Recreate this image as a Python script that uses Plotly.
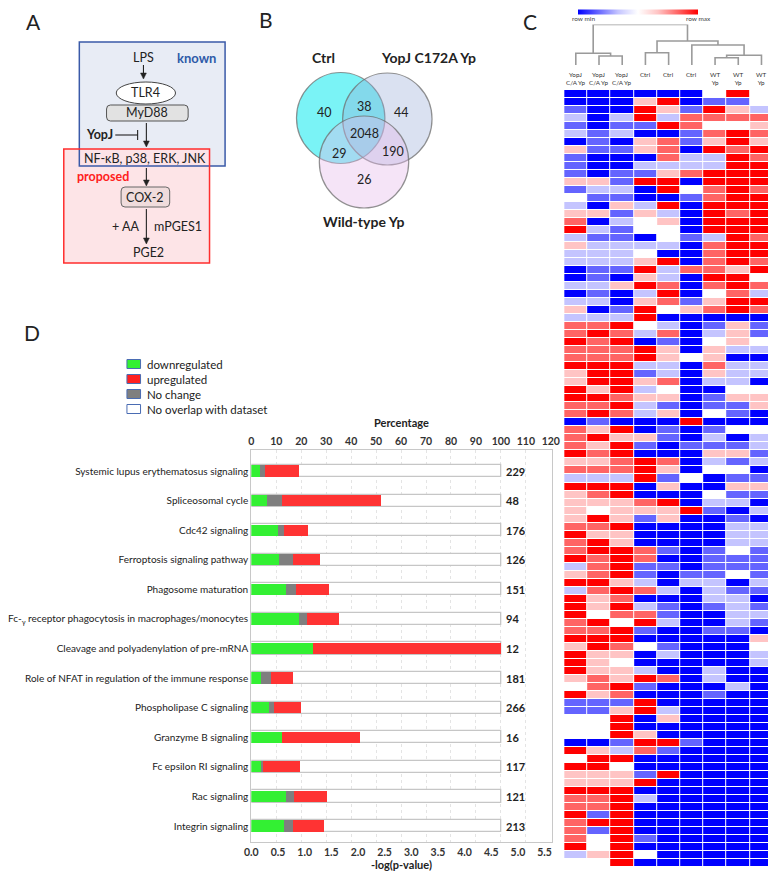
import plotly.graph_objects as go

W, H = 776, 871
def px(x): return x / W
def py(y): return 1 - y / H

FONT = "Lato, 'Open Sans', sans-serif"

# ---------------- Panel D data ----------------
pathways = ["Systemic lupus erythematosus signaling", "Spliceosomal cycle", "Cdc42 signaling",
            "Ferroptosis signaling pathway", "Phagosome maturation",
            "Fc-<sub>γ</sub> receptor phagocytosis in macrophages/monocytes",
            "Cleavage and polyadenylation of pre-mRNA",
            "Role of NFAT in regulation of the immune response", "Phospholipase C signaling",
            "Granzyme B signaling", "Fc epsilon RI signaling", "Rac signaling", "Integrin signaling"]
pct_down = [3.5, 6.3, 10.8, 11.1, 13.9, 19.1, 25.0, 3.9, 7.1, 12.5, 4.0, 14.0, 13.1]
pct_nochange = [2.2, 6.2, 2.3, 5.6, 4.0, 3.2, 0.0, 4.1, 2.3, 0.0, 1.0, 3.3, 3.8]
pct_up = [13.5, 39.6, 9.7, 11.1, 13.2, 12.8, 75.0, 8.8, 10.5, 31.2, 14.5, 13.2, 12.2]
pathway_sizes = [229, 48, 176, 126, 151, 94, 12, 181, 266, 16, 117, 121, 213]
pct_ticks = list(range(0, 130, 10))
logp_ticks = [0.0, 0.5, 1.0, 1.5, 2.0, 2.5, 3.0, 3.5, 4.0, 4.5, 5.0, 5.5]
legend_names = ["downregulated", "upregulated", "No change", "No overlap with dataset"]

# ---------------- Panel B data ----------------
venn_sets = ["Ctrl", "YopJ C172A Yp", "Wild-type Yp"]
venn_counts = ["40", "38", "44", "2048", "29", "190", "26"]

# ---------------- Panel C data ----------------
col_labels = ["YopJ<br>C/A Yp", "YopJ<br>C/A Yp", "YopJ<br>C/A Yp", "Ctrl", "Ctrl", "Ctrl",
              "WT<br>Yp", "WT<br>Yp", "WT<br>Yp"]
heat = [
    [-3, -3, -3, -3, -3, -3, 0, 3, 0],
    [-3, -3, -3, 1, 3, -3, -2, -2, 0],
    [-2, -3, -3, 3, 1, -2, 3, 1, -1],
    [-1, -3, -1, 3, -1, 2, 2, 2, 2],
    [-2, -3, -2, -2, 3, 2, 0, 0, 1],
    [-1, -2, -1, -3, -3, -2, 2, 3, 2],
    [-3, -2, -3, 1, 2, -2, 1, 3, 1],
    [1, -2, -2, 1, 2, -3, 3, 2, 3],
    [-2, -3, -3, -3, 2, -1, -1, 3, 2],
    [-2, -3, -3, -1, -1, -1, -1, 3, 3],
    [-2, -3, -2, -2, 1, 2, 3, 3, 3],
    [1, 1, -2, 3, 3, -3, 3, 3, 3],
    [-2, -1, -1, -3, 3, 0, 2, 3, 2],
    [0, -2, -2, -3, -3, -2, 2, 3, 3],
    [-1, -3, 1, -1, 3, -3, 3, 3, 3],
    [1, 1, -2, 1, -1, -3, 3, 2, 3],
    [2, -3, -1, 0, 1, -3, 3, 3, 3],
    [3, -1, -2, 0, 0, -3, 3, 3, 3],
    [-1, -2, -2, -3, 0, -2, -1, 3, 2],
    [1, -1, -1, -1, -1, -3, 2, 3, 3],
    [-1, -1, -1, 0, -3, -3, 2, 3, 3],
    [-1, -1, -1, 1, 3, -3, 2, 3, 2],
    [-3, -2, -2, 3, -1, 2, 2, 1, 3],
    [-3, -2, -3, 1, -1, -3, 3, 3, 0],
    [-1, -1, 1, 3, 2, -3, 2, 3, 2],
    [-3, -2, -3, -1, 3, -3, 0, 2, -1],
    [-1, -1, -3, 1, 2, -2, 1, 3, 3],
    [1, -3, -2, 3, 0, 1, 2, 3, 2],
    [-1, -1, -1, 3, -3, -3, -3, -3, -3],
    [2, 2, 3, 0, -1, -3, -2, 1, -2],
    [2, 3, 2, -1, 2, -3, -1, 1, -2],
    [3, 2, 3, -3, -2, -3, 0, 1, 0],
    [2, 2, 2, 3, 1, -3, 1, -1, -1],
    [2, 2, 2, 3, 1, 0, 1, -3, -3],
    [3, 3, 3, -1, -1, -3, 2, -1, -1],
    [1, 3, 3, -2, -1, -3, 1, -1, -1],
    [1, 3, 3, 1, 2, -3, -1, -1, -3],
    [3, 1, 3, -1, 0, -3, -3, 0, 0],
    [3, 3, 2, 1, 1, -3, -2, 1, 1],
    [2, 2, 3, -1, -2, -3, -2, -2, 1],
    [2, 3, 2, -1, 1, -3, 0, -2, -3],
    [-3, -2, -3, -3, -3, 3, -3, -3, -3],
    [2, 1, 3, -3, -2, -3, -2, 0, 0],
    [2, 3, 1, 1, -2, -3, -1, -3, -1],
    [2, 1, 3, -2, -3, -2, -2, -2, -1],
    [3, 2, 3, -3, -3, -3, 1, 1, -2],
    [1, 1, 2, 3, 2, -3, -1, -2, -1],
    [2, 2, 2, 3, 1, -3, 0, 0, -3],
    [-1, -1, -1, 3, -2, 0, -3, -2, -2],
    [3, 3, 3, -3, 1, -3, -3, 1, 1],
    [1, 2, 3, -3, -3, -3, 0, -2, -2],
    [1, 1, 1, 2, 3, -3, -1, -1, -3],
    [1, 0, 1, 1, 1, 3, -2, -3, -1],
    [1, 3, 1, -2, 1, -3, -3, -2, -3],
    [2, 2, 3, -3, -3, -3, -3, -1, -1],
    [3, 1, 1, -3, -3, -3, -3, -1, -1],
    [2, 3, 1, -3, -3, -3, -3, -1, -1],
    [2, 3, 3, 2, -2, -3, -2, 0, -2],
    [3, 2, 3, 2, -3, -3, -2, -2, -2],
    [-1, 2, 3, -2, -2, -3, -2, -2, -2],
    [1, 2, 3, -2, -3, -2, -2, 0, -2],
    [3, 3, 1, -1, -3, -1, -1, -3, -1],
    [-1, 2, 3, 2, -1, -3, -1, -2, -2],
    [3, 1, 2, -3, -3, -3, -1, -1, -3],
    [3, 1, 3, -1, -2, -3, -2, -1, -2],
    [3, 0, 2, 2, -2, -3, -3, -1, -1],
    [2, 3, 0, 3, -1, -3, -3, -1, -2],
    [2, 2, 3, -2, -3, -3, -2, -2, -3],
    [3, 3, 3, -3, -3, -3, -3, -3, 1],
    [1, 3, 2, 0, -2, -3, -3, -3, 0],
    [3, 1, 1, -3, -1, -3, -3, -3, -1],
    [3, 1, 0, -3, -3, -3, -3, -3, -1],
    [3, 1, 1, -1, -3, -3, -1, -3, -3],
    [1, 2, 1, 3, 2, -3, -1, -3, -3],
    [0, 2, 3, -2, -3, -3, -3, -1, -3],
    [3, 1, 2, -3, -3, -3, -2, -3, -3],
    [-2, -2, -2, 3, -3, -3, -3, -3, -3],
    [-2, -2, 1, 3, -1, -3, -3, -3, -3],
    [0, 0, 3, -3, 1, -3, -3, -3, -3],
    [0, 0, 3, -3, -3, -3, -3, -3, -3],
    [0, 0, 3, 1, -3, -3, -3, -3, -3],
    [-3, -3, -2, 3, 3, -2, -3, -3, -3],
    [3, 1, -1, 2, -2, -3, -3, -3, -3],
    [0, 3, 3, -3, -3, -3, -3, -3, -3],
    [3, 3, 0, -3, -3, -3, -3, -3, -3],
    [1, 1, 1, -2, 3, -3, -3, -3, -3],
    [1, 1, 1, 3, -3, -3, -3, -3, -3],
    [3, 3, 3, -3, -3, -3, -3, -3, -3],
    [2, 2, 3, -1, -3, -3, -3, -3, -3],
    [2, 2, 3, -3, -3, -3, -3, -3, -3],
    [3, -2, 3, -3, -3, -3, -3, -3, -3],
    [2, 3, 3, -3, -3, -3, -3, -3, -3],
    [2, -2, 3, -3, -3, -3, -3, -3, -3],
    [2, 0, 3, -2, -3, -3, -3, -3, -3],
    [3, 0, 3, -3, -3, -3, -3, -3, -3],
    [-1, 1, 3, 0, -3, -3, -3, -3, -3],
    [0, 0, 3, -3, -3, -3, -3, -3, -3],
]
# dendrogram merges: (child_a, child_b, height); leaves 0..8, merge i -> node 9+i
dendro_merges = [(1, 2, 9.0), (0, 9, 11.7), (3, 4, 12.3), (6, 7, 7.3), (12, 8, 9.7),
                 (5, 13, 20.0), (11, 14, 24.0), (10, 15, 40.5)]

fig = go.Figure()

# ---------------- Panel D bars ----------------
n = len(pathways)
totals = [100] * n
base_nc = [d for d in pct_down]
base_up = [d + c for d, c in zip(pct_down, pct_nochange)]
BW = 0.41
fig.add_trace(go.Bar(y=pathways, x=totals, orientation='h', width=BW,
                     marker=dict(color='white', line=dict(color='#c6c6c6', width=1.3)),
                     xaxis='x', yaxis='y', hoverinfo='skip'))
fig.add_trace(go.Bar(y=pathways, x=pct_down, base=[0] * n, orientation='h', width=BW - 0.03,
                     marker=dict(color='#33f033', line=dict(width=0)), xaxis='x', yaxis='y'))
fig.add_trace(go.Bar(y=pathways, x=pct_nochange, base=base_nc, orientation='h', width=BW - 0.03,
                     marker=dict(color='#7f7f7f', line=dict(width=0)), xaxis='x', yaxis='y'))
fig.add_trace(go.Bar(y=pathways, x=pct_up, base=base_up, orientation='h', width=BW - 0.03,
                     marker=dict(color='#ff3333', line=dict(width=0)), xaxis='x', yaxis='y'))
fig.add_trace(go.Scatter(x=[0], y=[pathways[0]], xaxis='x2', yaxis='y', mode='markers',
                         marker=dict(opacity=0), hoverinfo='skip'))

# ---------------- Panel C heatmap ----------------
nrows = len(heat)
cs = [[0, '#0000ff'], [1 / 6, '#6464ff'], [2 / 6, '#c4c4ff'], [0.5, '#ffffff'],
      [4 / 6, '#ffc4c4'], [5 / 6, '#ff6464'], [1, '#ff0000']]
fig.add_trace(go.Heatmap(z=heat, x=list(range(9)), y=list(range(nrows)), colorscale=cs,
                         zmin=-3, zmax=3, xgap=1, ygap=1, xaxis='x3', yaxis='y3',
                         colorbar=dict(orientation='h', x=px(634), xanchor='center', y=py(4),
                                       yanchor='middle', len=120, lenmode='pixels', thickness=5,
                                       thicknessmode='pixels', outlinewidth=0, showticklabels=False,
                                       ticks='', xpad=0, ypad=0)))

# dendrogram
node_x = {i: float(i) for i in range(9)}
node_h = {i: 0.0 for i in range(9)}
dx, dy = [], []
for k, (a, b, h) in enumerate(dendro_merges):
    xa, xb = node_x[a], node_x[b]
    dx += [xa, xa, xb, xb, None]
    dy += [node_h[a], h, h, node_h[b], None]
    node_x[9 + k] = (xa + xb) / 2
    node_h[9 + k] = h
fig.add_trace(go.Scatter(x=dx, y=dy, mode='lines', line=dict(color='#9a9a9a', width=1.6),
                         xaxis='x4', yaxis='y4', hoverinfo='skip'))

annotations = []
shapes = []

def txt(x, y, s, size=12.5, color='#222', bold=False, xanchor='center', yanchor='middle'):
    annotations.append(dict(x=px(x), y=py(y), xref='paper', yref='paper', text=f"<b>{s}</b>" if bold else s,
                            showarrow=False, xanchor=xanchor, yanchor=yanchor,
                            font=dict(family=FONT, size=size, color=color)))

# panel letters
txt(2, 13, "A", size=21, xanchor='left')
txt(242, 12, "B", size=21, xanchor='left')
txt(514, 13, "C", size=21, xanchor='left')
txt(0, 325, "D", size=21, xanchor='left')

# ---------------- Panel A diagram ----------------
def rect(x0, y0, x1, y1, fill, line, lw=1.5):
    shapes.append(dict(type='rect', xref='paper', yref='paper', x0=px(x0), x1=px(x1),
                       y0=py(y1), y1=py(y0), fillcolor=fill, line=dict(color=line, width=lw),
                       layer='below'))

def rrect(x0, y0, x1, y1, r, fill, line, lw=1):
    X0, X1, Y0, Y1 = px(x0), px(x1), py(y0), py(y1)
    rx, ry = r / W, r / H
    path = (f"M {X0+rx},{Y0} L {X1-rx},{Y0} Q {X1},{Y0} {X1},{Y0-ry} L {X1},{Y1+ry} "
            f"Q {X1},{Y1} {X1-rx},{Y1} L {X0+rx},{Y1} Q {X0},{Y1} {X0},{Y1+ry} "
            f"L {X0},{Y0-ry} Q {X0},{Y0} {X0+rx},{Y0} Z")
    shapes.append(dict(type='path', xref='paper', yref='paper', path=path, fillcolor=fill,
                       line=dict(color=line, width=lw), layer='below'))

rect(59, 34, 209, 158, '#e8ecf5', 'rgba(0,0,0,0)', 0)
rect(43, 141, 193, 255, 'rgba(253,226,229,0.92)', 'rgba(0,0,0,0)', 0)
rect(59, 34, 209, 158, 'rgba(0,0,0,0)', '#3a5aa8', 1.5)
rect(43, 141, 193, 255, 'rgba(0,0,0,0)', '#ff2e2e', 1.5)
shapes.append(dict(type='circle', xref='paper', yref='paper', x0=px(97), x1=px(158), y0=py(96), y1=py(74),
                   fillcolor='white', line=dict(color='#444', width=1), layer='below'))
rrect(87, 97, 171, 113, 4, '#e2e2e2', '#555')
rrect(102, 179, 152, 199, 4, '#f0dcdc', '#666')

txt(125, 50, "LPS")
txt(180, 50, "known", color='#2e5aa8', bold=True, size=13)
txt(127, 85, "TLR4")
txt(129, 105, "MyD88")
txt(80, 127, "YopJ", bold=True, size=12.5)
txt(127, 151, "NF-κB, p38, ERK, JNK")
txt(83, 168, "proposed", color='#ff2020', bold=True, size=12.5)
txt(127, 189, "COX-2")
txt(122, 218, "+ AA", xanchor='right')
txt(134, 218, "mPGES1", xanchor='left')
txt(130, 245, "PGE2")

def arrow(x, y0, y1):
    shapes.append(dict(type='line', xref='paper', yref='paper', x0=px(x), x1=px(x), y0=py(y0), y1=py(y1 - 4),
                       line=dict(color='#222', width=1.1)))
    path = f"M {px(x - 3)},{py(y1 - 6)} L {px(x + 3)},{py(y1 - 6)} L {px(x)},{py(y1)} Z"
    shapes.append(dict(type='path', xref='paper', yref='paper', path=path, fillcolor='#222',
                       line=dict(color='#222', width=0.5)))

arrow(125, 57, 71)
arrow(128, 115, 139)
arrow(128, 160, 178)
arrow(128, 201, 236)
shapes.append(dict(type='line', xref='paper', yref='paper', x0=px(96), x1=px(119), y0=py(127), y1=py(127),
                   line=dict(color='#222', width=1.1)))
shapes.append(dict(type='line', xref='paper', yref='paper', x0=px(119), x1=px(119), y0=py(122), y1=py(132),
                   line=dict(color='#222', width=1.1)))

# ---------------- Panel B Venn ----------------
def circle(cx, cy, r, fill):
    shapes.append(dict(type='circle', xref='paper', yref='paper', x0=px(cx - r), x1=px(cx + r),
                       y0=py(cy + r), y1=py(cy - r), fillcolor=fill,
                       line=dict(color='rgba(110,110,110,0.75)', width=1.2)))

circle(328, 110, 45.5, 'rgba(40,235,240,0.62)')
circle(376, 111, 46, 'rgba(150,170,215,0.35)')
circle(352, 154, 46, 'rgba(230,185,235,0.38)')
venn_pos = [(311, 104), (352, 98), (391, 104), (352, 126), (327, 145), (382, 143), (352, 172)]
for s, (x, y) in zip(venn_counts, venn_pos):
    txt(x, y, s, size=12.5)
txt(310, 50, venn_sets[0], bold=True, size=14)
txt(418, 50, venn_sets[1], bold=True, size=14)
txt(352, 213, venn_sets[2], bold=True, size=14)

# ---------------- Panel C labels ----------------
for i, lab in enumerate(col_labels):
    annotations.append(dict(x=i, xref='x3', y=py(70.5 if '<br>' in lab else 67), yref='paper', text=lab,
                            showarrow=False, font=dict(family=FONT, size=6.3, color='#333'),
                            xanchor='center', yanchor='middle'))
txt(578, 10, "row min", size=6.5, color='#444')
txt(696, 10, "row max", size=6.5, color='#444')

# ---------------- Panel D legend & labels ----------------
leg_fill = ['#33f033', '#ff2020', '#7f7f7f', '#ffffff']
for i, (name, fc) in enumerate(zip(legend_names, leg_fill)):
    yc = 356 + 15 * i
    shapes.append(dict(type='rect', xref='paper', yref='paper', x0=px(108), x1=px(122),
                       y0=py(yc + 4.5), y1=py(yc - 4.5), fillcolor=fc,
                       line=dict(color='#4a6cb3', width=1)))
    txt(127, yc, name, size=11.5, xanchor='left')

for name, size in zip(pathways, pathway_sizes):
    annotations.append(dict(x=101.3, xref='x', y=name, yref='y', text=f"<b>{size}</b>",
                            showarrow=False, xanchor='left', yanchor='middle',
                            font=dict(family=FONT, size=11, color='#222')))

fig.update_layout(
    width=W, height=H, margin=dict(l=0, r=0, t=0, b=0), paper_bgcolor='white', plot_bgcolor='white',
    showlegend=False, barmode='overlay', bargap=0,
    annotations=annotations, shapes=shapes,
    xaxis=dict(domain=[px(236), px(545)], range=[0, 120.3], side='top', anchor='y',
               tickvals=pct_ticks, ticktext=[f"<b>{t}</b>" for t in pct_ticks],
               tickfont=dict(family=FONT, size=10.5, color='#333'), ticks='',
               showline=True, linecolor='#c8c8c8', linewidth=1.2, mirror=True,
               showgrid=True, gridcolor='#e4e4e4', griddash='dot', zeroline=False,
               title=dict(text='<b>Percentage</b>', font=dict(family=FONT, size=11, color='#222'), standoff=4)),
    xaxis2=dict(domain=[px(236), px(545)], range=[0, 5.63], overlaying='x', side='bottom', anchor='y',
                tickvals=logp_ticks, ticktext=[f"<b>{t:.1f}</b>" for t in logp_ticks],
                tickfont=dict(family=FONT, size=10.5, color='#333'), ticks='', showgrid=False,
                zeroline=False, showline=True, linecolor='#c8c8c8', linewidth=1.2,
                title=dict(text='<b>-log(p-value)</b>', font=dict(family=FONT, size=11, color='#222'), standoff=4)),
    yaxis=dict(domain=[py(834), py(442)], type='category', range=[12.54, -0.71],
               tickfont=dict(family=FONT, size=10, color='#222'), ticks='', showgrid=False,
               showline=True, linecolor='#c8c8c8', linewidth=1.2, mirror=True, anchor='x'),
    xaxis3=dict(domain=[px(558), px(773)], range=[-0.5, 8.5], visible=False, anchor='y3'),
    yaxis3=dict(domain=[py(859), py(82)], range=[nrows - 0.5, -0.5], visible=False, anchor='x3'),
    xaxis4=dict(domain=[px(558), px(773)], range=[-0.5, 8.5], visible=False, anchor='y4'),
    yaxis4=dict(domain=[py(57), py(16.5)], range=[0, 40.5], visible=False, anchor='x4'),
)

fig.write_html("out.html")
